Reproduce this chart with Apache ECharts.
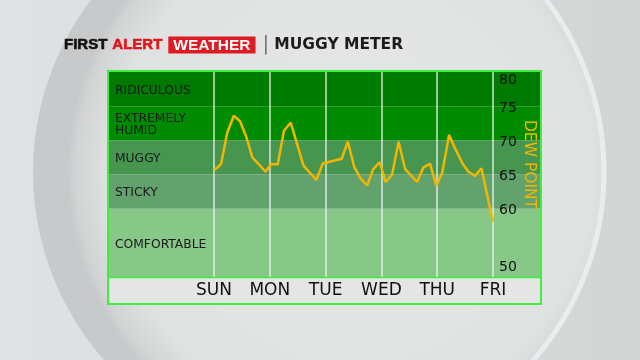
<!DOCTYPE html>
<html>
<head>
<meta charset="utf-8">
<script src="https://cdn.jsdelivr.net/npm/echarts@6/dist/echarts.min.js"></script>
<style>
html,body{margin:0;padding:0;}
body{width:640px;height:360px;background:linear-gradient(90deg,#dfe2e4 0%,#dadcdd 60%,#d3d4d4 100%);overflow:hidden;}
#c{width:640px;height:360px;}
</style>
</head>
<body>
<div id="c"></div>
<script>
// ---- data ----
const dayLabels = ['SUN','MON','TUE','WED','THU','FRI'];
const hours = [0,3,5.7,8.5,11.2,13.8,16.5,22.2,24.5,27.4,30.1,33,38.5,44,46.8,54.9,57.6,60.3,63.1,65.9,68.5,71.3,73.8,76.6,79.4,82.2,87.4,90,92.9,95.6,98.2,101.1,104,106.9,109.4,112.3,115,120];
const dewPoints = [65.6,66.5,71.1,73.6,72.8,70.6,67.5,65.4,66.5,66.5,71.4,72.6,66.3,64.2,66.6,67.3,69.8,66.1,64.4,63.4,65.8,66.8,63.9,65.0,69.8,65.8,63.9,66.0,66.6,63.4,65.3,70.8,68.6,66.6,65.4,64.8,65.9,58.1];
const yTicks = [50,60,65,70,75,80];
const bandNames = ['RIDICULOUS','EXTREMELY\nHUMID','MUGGY','STICKY','COMFORTABLE'];
const bandFrom = [75,70,65,60,50];
const bandTo = [80,75,70,65,60];
const bandColors = ['#007a00','#008b00','#469650','#63a16d','#87c889'];

const chart = echarts.init(document.getElementById('c'), null, {renderer:'canvas'});
const font = 'DejaVu Sans';

const bandAreas = bandNames.map((n,i)=>[
  {yAxis: bandFrom[i], name: n, itemStyle:{color: bandColors[i]}},
  {yAxis: bandTo[i]}
]);

chart.setOption({
  animation:false,
  title:{
    left:64, top:35, padding:0,
    text:'{a|FIRST}{g1|}{b|ALERT}{g2|}{c|WEATHER}{g3|}{d||}{g4|}{e|MUGGY METER}',
    textStyle:{
      rich:{
        a:{fontFamily:'Liberation Sans',fontWeight:900,fontSize:15,color:'#111',textBorderColor:'#111',textBorderWidth:0.6},
        b:{fontFamily:'Liberation Sans',fontWeight:900,fontSize:15,color:'#e3141c',textBorderColor:'#e3141c',textBorderWidth:0.6},
        c:{fontFamily:'Liberation Sans',fontSize:15.5,color:'#fff',backgroundColor:'#e01a22',padding:[1,5,0,5],lineHeight:15},
        d:{fontFamily:font,fontSize:20,color:'#222',fontWeight:'lighter'},
        e:{fontFamily:font,fontSize:15.5,color:'#1b1b1b'},
        g1:{width:5},g2:{width:6},g3:{width:7},g4:{width:5}
      }
    }
  },
  graphic:[
    {type:'circle',z:-100,shape:{cx:318,cy:172,r:285},
     style:{fill:{type:'radial',x:0.56,y:0.5,r:0.5,colorStops:[
       {offset:0,color:'#e7e8e8'},{offset:0.85,color:'#e0e1e1'},{offset:0.97,color:'#d2d3d4'},{offset:1,color:'#c8c9ca'}]}}},
    {type:'arc',z:-99,shape:{cx:318,cy:172,r:286,startAngle:-Math.PI*0.5,endAngle:Math.PI*0.5},
     style:{stroke:'#e8eef0',lineWidth:5,fill:null}},
    {type:'rect',z:-50,shape:{x:108,y:71,width:433,height:233},style:{fill:'#e5e5e5'}},
    {type:'rect',z:100,shape:{x:108,y:71,width:433,height:233},style:{fill:null,stroke:'#3fee3f',lineWidth:2}},
    {type:'line',z:100,shape:{x1:108,y1:277.5,x2:541,y2:277.5},style:{stroke:'#3fee3f',lineWidth:1.5}}
  ],
  grid:[
    {left:109,right:100,top:72,bottom:83},
    {left:214,right:147,top:72,bottom:83}
  ],
  xAxis:[
    {gridIndex:0,type:'value',min:0,max:1,show:false},
    {gridIndex:1,type:'value',min:0,max:120,interval:24,z:3,
     axisLine:{show:false},axisTick:{show:false},
     splitLine:{show:true,lineStyle:{color:'rgba(240,245,240,0.85)',width:1.5}},
     axisLabel:{margin:5,fontFamily:font,fontSize:17,color:'#111',
       formatter:v=>dayLabels[Math.round(v/24)]||''}}
  ],
  yAxis:[
    {gridIndex:0,type:'value',min:50,max:80,show:false},
    {gridIndex:1,type:'value',position:'right',min:50,max:80,interval:5,z:3,
     splitLine:{show:false},axisLine:{show:false},axisTick:{show:false},
     name:'DEW POINT',nameLocation:'middle',nameRotate:-90,nameGap:27,
     nameTextStyle:{color:'#f2b600',fontFamily:font,fontSize:15.5,padding:[0,20,0,0]},
     axisLabel:{margin:6,fontFamily:font,fontSize:14,color:'#111',
       formatter:v=>{
         if(yTicks.indexOf(v)<0) return '';
         if(v===80) return '{t|'+v+'}';
         if(v===50) return '{b|'+v+'}';
         return '{m|'+v+'}';
       },
       rich:{
         t:{fontFamily:font,fontSize:14,color:'#111',padding:[17,0,0,0]},
         b:{fontFamily:font,fontSize:14,color:'#111',padding:[0,0,19,0]},
         m:{fontFamily:font,fontSize:14,color:'#111',padding:[4,0,0,0]}
       }}}
  ],
  series:[
    {type:'line',xAxisIndex:0,yAxisIndex:0,data:[],silent:true,z:1,
     markArea:{silent:true,
       label:{show:true,position:'insideLeft',distance:6,offset:[0,1.5],fontFamily:font,fontSize:12.3,color:'#1a1a1a',lineHeight:12.5},
       data:bandAreas}},
    {type:'line',xAxisIndex:1,yAxisIndex:1,z:6,showSymbol:false,
     lineStyle:{color:'#f2b600',width:2.5},itemStyle:{color:'#f2b600'},
     data:hours.map((h,i)=>[h,dewPoints[i]])}
  ]
});
</script>
</body>
</html>
